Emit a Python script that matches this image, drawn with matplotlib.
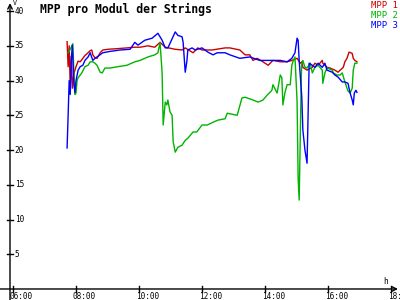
import matplotlib
matplotlib.use("Agg")
import matplotlib.pyplot as plt
import matplotlib.transforms as mtransforms
import numpy as np

# MPP 1 (red)
t1 = ["7:43", "7:45", "7:47", "7:49", "7:51", "7:53", "7:56", "8:00", "8:04", "8:08",
      "8:13", "8:17", "8:23", "8:27", "8:30", "8:32", "8:36", "8:40", "8:46", "8:51",
      "9:01", "9:20", "9:37", "9:52", "10:02", "10:17", "10:30", "10:40", "10:50", "11:09",
      "11:22", "11:28", "11:43", "11:52", "12:00", "12:19", "12:44", "12:53", "13:12", "13:22",
      "13:31", "13:37", "13:45", "13:56", "14:06", "14:15", "14:29", "14:42", "14:51", "15:01",
      "15:07", "15:10", "15:12", "15:20", "15:30", "15:35", "15:41", "15:49", "15:50", "15:58",
      "16:04", "16:13", "16:19", "16:23", "16:29", "16:32", "16:36", "16:40", "16:46", "16:48",
      "16:51", "16:55"]
v1 = [35.6, 32.0, 35.0, 29.0, 33.5, 28.9, 31.0, 32.0, 32.8, 32.7,
      33.2, 33.6, 34.0, 34.3, 34.4, 33.7, 33.3, 33.2, 34.0, 34.4,
      34.5, 34.6, 34.7, 34.8, 34.8, 35.0, 34.8, 35.5, 34.8, 34.5,
      34.4, 34.7, 34.0, 34.7, 34.4, 34.4, 34.7, 34.7, 34.4, 33.7,
      33.7, 32.9, 33.2, 32.7, 32.2, 32.9, 32.7, 32.7, 32.9, 33.2,
      32.5, 32.7, 31.9, 31.5, 31.9, 32.5, 32.2, 32.9, 32.5, 31.9,
      31.8, 31.5, 31.2, 31.5, 31.9, 32.7, 33.2, 34.1, 33.9, 33.2,
      32.9, 32.7]

# MPP 2 (green)
t2 = ["7:45", "7:49", "7:54", "7:56", "7:58", "8:00", "8:02", "8:04", "8:11", "8:17",
      "8:23", "8:27", "8:32", "8:36", "8:40", "8:46", "8:50", "8:55", "9:05", "9:20",
      "9:37", "9:52", "10:02", "10:17", "10:30", "10:36", "10:40", "10:44", "10:46", "10:50",
      "10:53", "10:55", "10:59", "11:03", "11:05", "11:09", "11:14", "11:22", "11:28", "11:33",
      "11:43", "11:50", "12:00", "12:10", "12:21", "12:30", "12:44", "12:48", "13:07", "13:16",
      "13:22", "13:37", "13:47", "13:56", "14:04", "14:13", "14:15", "14:23", "14:29", "14:32",
      "14:34", "14:38", "14:42", "14:48", "14:51", "14:53", "14:57", "15:01", "15:03", "15:05",
      "15:07", "15:09", "15:10", "15:12", "15:16", "15:20", "15:26", "15:30", "15:35", "15:41",
      "15:49", "15:50", "15:54", "15:58", "16:08", "16:10", "16:17", "16:23", "16:27", "16:32",
      "16:38", "16:42", "16:46", "16:48", "16:51", "16:55"]
v2 = [34.0, 34.5, 35.3, 31.0, 28.0, 28.2, 30.0, 30.4, 31.1, 32.0,
      32.2, 32.7, 32.7, 32.5, 32.2, 31.2, 31.1, 31.8, 31.8, 32.0,
      32.2, 32.7, 32.9, 33.4, 33.7, 34.0, 35.5, 31.1, 23.6, 26.9,
      26.5, 27.2, 25.5, 25.0, 21.2, 19.7, 20.4, 20.7, 21.4, 21.7,
      22.6, 22.6, 23.6, 23.6, 24.0, 24.3, 24.5, 25.3, 25.0, 27.5,
      27.6, 27.2, 26.9, 27.2, 27.9, 28.6, 29.4, 28.2, 30.8, 30.4,
      26.5, 28.3, 29.4, 29.4, 32.2, 32.7, 33.4, 27.0, 16.0, 12.8,
      21.4, 30.5, 32.5, 32.9, 31.9, 31.8, 32.5, 31.1, 31.9, 32.2,
      31.5, 29.6, 31.1, 31.8, 31.5, 31.1, 30.8, 30.8, 31.1, 29.8,
      28.5, 28.2, 28.9, 31.5, 32.5, 32.5]

# MPP 3 (blue)
t3 = ["7:43", "7:45", "7:47", "7:49", "7:51", "7:53", "7:56", "7:58", "8:00", "8:04",
      "8:08", "8:13", "8:17", "8:23", "8:27", "8:32", "8:36", "8:42", "8:51", "9:05",
      "9:24", "9:43", "9:52", "9:58", "10:11", "10:25", "10:36", "10:44", "10:50", "10:55",
      "11:09", "11:14", "11:22", "11:24", "11:28", "11:31", "11:33", "11:41", "11:47", "12:00",
      "12:11", "12:21", "12:29", "12:44", "12:53", "13:12", "13:31", "13:50", "14:10", "14:29",
      "14:42", "14:51", "14:57", "15:01", "15:03", "15:05", "15:10", "15:12", "15:16", "15:20",
      "15:22", "15:24", "15:30", "15:35", "15:41", "15:49", "15:54", "15:58", "16:08", "16:13",
      "16:19", "16:27", "16:32", "16:38", "16:42", "16:46", "16:48", "16:50", "16:53", "16:55"]
v3 = [20.3, 25.0, 30.0, 28.0, 33.0, 35.1, 29.5, 28.3, 30.0, 31.5,
      32.0, 32.2, 32.9, 33.4, 34.0, 32.9, 33.2, 33.5, 34.0, 34.2,
      34.4, 34.5, 35.5, 35.1, 35.8, 36.1, 36.8, 35.8, 34.7, 34.7,
      37.0, 36.5, 36.3, 35.5, 31.2, 32.7, 34.4, 34.7, 34.4, 34.7,
      34.1, 33.7, 34.0, 34.0, 33.7, 33.2, 33.4, 32.9, 32.9, 32.9,
      32.7, 33.2, 34.0, 36.1, 35.8, 32.9, 27.6, 22.9, 20.0, 18.1,
      25.2, 32.5, 32.2, 31.9, 32.5, 31.9, 32.5, 31.5, 31.2, 30.8,
      30.5, 29.8, 29.8, 29.6, 28.2, 27.2, 26.5, 28.2, 28.6, 28.3]

x_ticks = [6, 8, 10, 12, 14, 16, 18]
y_ticks = [5, 10, 15, 20, 25, 30, 35, 40]
labels = ["MPP 1", "MPP 2", "MPP 3"]
colors = ["#cc0000", "#00b400", "#0000ff"]


def hours(s):
    h, m = s.split(":")
    return int(h) + int(m) / 60


mono = "DejaVu Sans Mono"

fig = plt.figure(figsize=(4, 3), dpi=100)
ax = fig.add_axes([0.025, 0.0367, 0.97, 0.953])
ax.set_xlim(5.905, 18.22)
ax.set_ylim(0, 41.15)

for t, v, c in zip([t1, t2, t3], [v1, v2, v3], colors):
    ax.plot([hours(s) for s in t], v, color=c, lw=1.0)

for s in ax.spines.values():
    s.set_visible(False)
ax.set_xticks([])
ax.set_yticks([])

# axis lines with arrow heads
ax.annotate("", xy=(1.0, 0), xytext=(-0.03, 0), xycoords="axes fraction",
            arrowprops=dict(arrowstyle="->", lw=1, color="black",
                            shrinkA=0, shrinkB=0, mutation_scale=8),
            annotation_clip=False)
ax.annotate("", xy=(0, 1.0), xytext=(0, -0.04), xycoords="axes fraction",
            arrowprops=dict(arrowstyle="->", lw=1, color="black",
                            shrinkA=0, shrinkB=0, mutation_scale=8),
            annotation_clip=False)

# ticks crossing the axes
xt = mtransforms.blended_transform_factory(ax.transData, ax.transAxes)
yt = mtransforms.blended_transform_factory(ax.transAxes, ax.transData)
for x in x_ticks:
    ax.plot([x, x], [-0.011, 0.011], color="black", lw=1, transform=xt, clip_on=False)
    ax.annotate(f"{x:02d}:00", xy=(x, 0), xycoords=xt, xytext=(-2.5, -2.5),
                textcoords="offset points", ha="left", va="top",
                fontsize=5.6, family=mono, annotation_clip=False)
for y in y_ticks:
    ax.plot([-0.008, 0.008], [y, y], color="black", lw=1, transform=yt, clip_on=False)
    ax.annotate(f"{y}", xy=(0, y), xycoords=yt, xytext=(3.5, 0),
                textcoords="offset points", ha="left", va="center",
                fontsize=5.6, family=mono, annotation_clip=False)

fig.text(0.032, 1.0, "V", ha="left", va="top", fontsize=4.8, family=mono)
ax.text(0.967, 0.012, "h", transform=ax.transAxes, ha="center", va="bottom",
        fontsize=5.6, family=mono)

fig.text(0.1, 0.99, "MPP pro Modul der Strings", ha="left", va="top",
         fontsize=8.3, family=mono, fontweight="bold")
for i, (lab, c) in enumerate(zip(labels, colors)):
    fig.text(0.995, 0.995 - i * 0.033, lab, ha="right", va="top",
             fontsize=6.5, family=mono, color=c)

fig.savefig("out.png", dpi=100)
